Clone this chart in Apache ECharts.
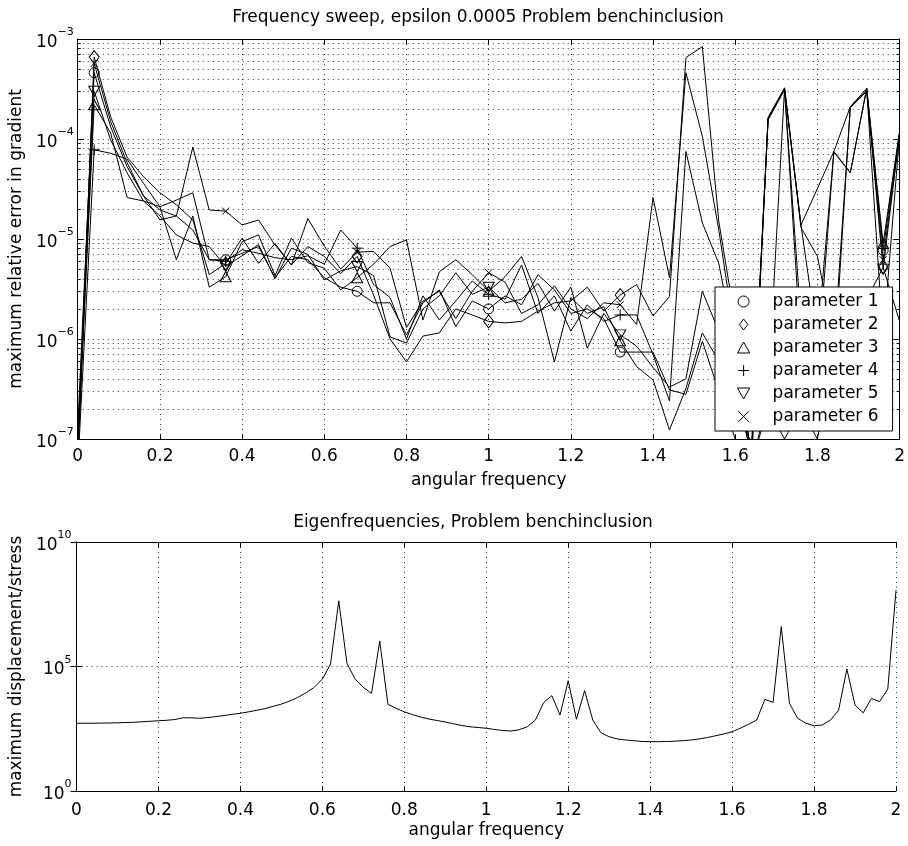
<!DOCTYPE html>
<html>
<head>
  <meta charset="utf-8" />
  <title>Frequency sweep / Eigenfrequencies</title>
  <script src="https://cdn.jsdelivr.net/npm/echarts@6/dist/echarts.min.js"></script>
  <style>html,body{margin:0;padding:0;background:#fff;}</style>
</head>
<body>
<div id="main" style="width:908px;height:846px;"></div>
<script type="text/javascript">
// sample points of the frequency sweep (top) and of the eigenfrequency scan (bottom)
var freqSweep = [0,0.04,0.08,0.12,0.16,0.2,0.24,0.28,0.32,0.36,0.4,0.44,0.48,0.52,0.56,0.6,0.64,0.68,0.72,0.76,
  0.8,0.84,0.88,0.92,0.96,1,1.04,1.08,1.12,1.16,1.2,1.24,1.28,1.32,1.36,1.4,1.44,1.48,1.52,1.56,
  1.6,1.64,1.68,1.72,1.76,1.8,1.84,1.88,1.92,1.96,2];
var freqEigen = [0,0.02,0.04,0.06,0.08,0.1,0.12,0.14,0.16,0.18,0.2,0.22,0.24,0.26,0.28,0.3,0.32,0.34,0.36,0.38,
  0.4,0.42,0.44,0.46,0.48,0.5,0.52,0.54,0.56,0.58,0.6,0.62,0.64,0.66,0.68,0.7,0.72,0.74,0.76,0.78,
  0.8,0.82,0.84,0.86,0.88,0.9,0.92,0.94,0.96,0.98,1,1.02,1.04,1.06,1.08,1.1,1.12,1.14,1.16,1.18,
  1.2,1.22,1.24,1.26,1.28,1.3,1.32,1.34,1.36,1.38,1.4,1.42,1.44,1.46,1.48,1.5,1.52,1.54,1.56,1.58,
  1.6,1.62,1.64,1.66,1.68,1.7,1.72,1.74,1.76,1.78,1.8,1.82,1.84,1.86,1.88,1.9,1.92,1.94,1.96,1.98,2];
// markers are only drawn on every 8th sample
var markerIdx = [1,9,17,25,33,41,49];

var param1 = [1.3e-7,4.6e-4,1.33e-4,5.3e-5,2.7e-5,1.95e-5,1.7e-5,1.23e-5,6.2e-6,6.2e-6,
  7.2e-6,8.4e-6,4.1e-6,6.7e-6,6.2e-6,4.1e-6,3.3e-6,3.0e-6,2.3e-6,2.3e-6,
  1.1e-6,2.3e-6,3.1e-6,1.33e-6,2.4e-6,2.0e-6,2.7e-6,2.2e-6,4.4e-6,3.1e-6,
  1.8e-6,2.0e-6,1.6e-6,7.4e-7,7.4e-7,7.4e-7,3.1e-7,2.8e-7,9.5e-7,3e-7,
  1e-7,8e-8,1.6e-4,3.2e-4,1.38e-5,3.2e-5,7.5e-5,2.1e-4,3.2e-4,7.7e-6,1.15e-4];
var param2 = [6e-8,6.6e-4,1.67e-4,6.6e-5,4.2e-5,2.9e-5,2.2e-5,1.55e-5,4.4e-6,5.7e-6,
  1.02e-5,5.7e-6,9e-6,5.5e-6,8.4e-6,6.7e-6,4.5e-6,6.7e-6,2.75e-6,1.0e-6,
  5.9e-7,1.07e-6,1.15e-6,2.0e-6,1.74e-6,1.5e-6,1.45e-6,1.5e-6,1.9e-6,2.3e-6,
  2.4e-6,3.3e-6,1.9e-6,2.75e-6,3.5e-6,1.7e-6,2.65e-6,6.5e-4,8.4e-4,1.5e-5,
  1.5e-6,6e-8,1.6e-4,3.2e-4,1.3e-5,6.7e-6,1e-6,1.2e-6,2.5e-6,5.2e-6,1.5e-6];
var param3 = [8e-8,2.2e-4,1.15e-4,2.6e-5,2.4e-5,2.1e-5,6.2e-6,1.7e-5,3.3e-6,4.2e-6,
  9.4e-6,1.1e-5,4.3e-6,1.02e-5,5.8e-6,5.1e-6,3.1e-6,4.1e-6,5.6e-6,8.4e-6,
  9.8e-6,1.55e-6,4.7e-6,6.2e-6,4.4e-6,3.0e-6,4.2e-6,6.7e-6,2.6e-6,5.9e-7,
  2.6e-6,1.8e-6,2.1e-6,9.6e-7,5.3e-7,3.9e-7,1.23e-7,3.2e-7,1.15e-6,6e-7,
  2e-7,9e-8,1.55e-4,3.1e-4,1.5e-6,5e-7,7.5e-5,4.6e-5,3.2e-4,9e-6,1.2e-4];
var param4 = [5e-8,7.8e-5,7.2e-5,6.3e-5,3.6e-5,2.1e-5,2.45e-5,2.9e-5,6.2e-6,6.0e-6,
  7.8e-6,7.2e-6,6.5e-6,6.2e-6,6.8e-6,5.6e-6,1.23e-5,8.1e-6,3.5e-6,2.6e-6,
  1.0e-6,2.7e-6,1.55e-6,2.4e-6,3.8e-6,2.8e-6,2.5e-6,5.5e-6,1.8e-6,2.7e-6,
  1.2e-6,2.2e-6,1.5e-6,1.74e-6,1.74e-6,7e-7,2.4e-7,7.5e-5,1.45e-5,5.7e-6,
  8e-7,5e-8,3e-7,3.2e-4,8e-7,2e-7,5e-7,2.1e-4,3.1e-4,1e-6,1.1e-4];
var param5 = [7e-8,3.0e-4,9.8e-5,4.6e-5,2.4e-5,1.7e-5,1.1e-5,9.1e-6,8.4e-6,5.3e-6,
  6.8e-6,8.8e-6,4e-6,8.1e-6,7e-6,3.9e-6,4.8e-6,5.3e-6,4.3e-6,1.05e-6,
  9.1e-7,2.0e-6,2.7e-6,4.6e-6,2.8e-6,3.3e-6,2.3e-6,2.5e-6,3.6e-6,1.9e-6,
  3.3e-6,8.1e-7,1.8e-6,1.1e-6,8.5e-7,5.2e-7,3.3e-7,4.0e-7,3.0e-6,1.2e-6,
  3e-7,7e-8,1.65e-4,3.25e-4,1.38e-5,1e-6,7.4e-5,4.6e-5,3.2e-4,5e-6,1.15e-4];
var param6 = [9e-8,5.7e-4,1.5e-4,5.8e-5,2.7e-5,1.55e-5,1.7e-5,8.3e-5,1.95e-5,1.9e-5,
  1.38e-5,1.55e-5,8.7e-6,5.5e-6,1.6e-5,8.5e-6,5e-6,7.4e-6,7.5e-6,5.1e-6,
  1.3e-6,2.4e-6,3.0e-6,1.6e-6,3.0e-6,4.6e-6,3.7e-6,1.8e-6,2.2e-6,3.4e-6,
  2.0e-6,1.6e-6,2.3e-6,2.2e-6,1.4e-6,2.6e-5,4.1e-6,4.6e-4,1.06e-4,1.23e-5,
  1e-6,6e-8,2e-7,1e-7,2e-7,1e-7,8e-7,2.05e-4,3.0e-4,6.2e-6,1.1e-4];

var eigenResp = [525,525,525,537,537,550,562,575,603,631,
  661,692,741,871,871,832,891,977,1070,1200,
  1320,1510,1740,2040,2510,3090,4070,5750,8710,14500,
  30900,126000,4.37e7,135000,30900,14500,8320,1.05e6,3020,2090,
  1510,1170,933,776,676,589,501,427,380,355,
  331,295,269,257,288,380,708,3550,6760,1120,
  26900,759,10700,708,219,151,123,112,105,97.7,
  95.5,95.5,97.7,100,105,112,123,141,166,195,
  240,331,479,708,4790,3630,3.98e6,3310,832,525,
  417,447,708,1780,79400,2820,1380,5250,3890,12600,
  1.17e8];

var decadesTop = [1e-7,1e-6,1e-5,1e-4,1e-3];
var minorTop = [2e-7,3e-7,4e-7,5e-7,6e-7,7e-7,8e-7,9e-7,
  2e-6,3e-6,4e-6,5e-6,6e-6,7e-6,8e-6,9e-6,
  2e-5,3e-5,4e-5,5e-5,6e-5,7e-5,8e-5,9e-5,
  2e-4,3e-4,4e-4,5e-4,6e-4,7e-4,8e-4,9e-4];
var decadesBottom = [1,1e5,1e10];

var FONT = 'DejaVu Sans';
var dotted = {color: '#333', width: 1, type: [1, 4]};

function powLabel(v) {
  var e = Math.round(Math.log10(v));
  return '{b|10}{s|' + (e < 0 ? '\u2212' + (-e) : e) + '}';
}
var powRich = {
  b: {fontSize: 17, fontFamily: FONT, color: '#000', lineHeight: 24, verticalAlign: 'bottom'},
  s: {fontSize: 11, fontFamily: FONT, color: '#000', lineHeight: 24, verticalAlign: 'top'}
};

function markerOf(shape) {
  return function (val, params) {
    return markerIdx.indexOf(params.dataIndex) >= 0 ? shape : 'none';
  };
}
function pairs(xs, ys) {
  var out = [];
  for (var i = 0; i < ys.length; i++) out.push([xs[i], ys[i]]);
  return out;
}

// path symbols keep their aspect in the legend
var shapes = {
  circle: 'circle',
  diamond: 'path://M5,0L10,6.5L5,13L0,6.5Z',
  triangle: 'path://M5,0L10,9L0,9Z',
  plus: 'path://M5,0L5,10M0,5L10,5',
  down: 'path://M0,0L10,0L5,9Z',
  cross: 'path://M0,0L10,10M10,0L0,10'
};

var params = [
  {name: 'parameter 1', data: param1, shape: shapes.circle, size: 10},
  {name: 'parameter 2', data: param2, shape: shapes.diamond, size: [10, 13]},
  {name: 'parameter 3', data: param3, shape: shapes.triangle, size: [11, 10]},
  {name: 'parameter 4', data: param4, shape: shapes.plus, size: 11},
  {name: 'parameter 5', data: param5, shape: shapes.down, size: [11, 10]},
  {name: 'parameter 6', data: param6, shape: shapes.cross, size: 7}
];

var hollow = {color: 'rgba(0,0,0,0)', borderColor: '#000', borderWidth: 1};

var seriesList = params.map(function (p) {
  return {
    name: p.name,
    type: 'line',
    xAxisIndex: 0,
    yAxisIndex: 0,
    data: pairs(freqSweep, p.data),
    symbol: markerOf(p.shape),
    symbolSize: p.size,
    showAllSymbol: true,
    itemStyle: hollow,
    lineStyle: {color: '#000', width: 1},
    silent: true,
    z: 3
  };
});
seriesList.push({
  name: 'eigen',
  type: 'line',
  xAxisIndex: 2,
  yAxisIndex: 4,
  data: pairs(freqEigen, eigenResp),
  symbol: 'none',
  lineStyle: {color: '#000', width: 1},
  silent: true
});

function xAxisPair(grid, labelMargin, nameGap) {
  var base = {
    gridIndex: grid, type: 'value', min: 0, max: 2, interval: 0.2,
    axisLine: {show: true, onZero: false, lineStyle: {color: '#000', width: 1}},
    axisTick: {show: true, inside: true, length: 5, lineStyle: {color: '#000'}}
  };
  return [
    Object.assign({}, base, {
      position: 'bottom',
      axisLabel: {color: '#000', fontSize: 17, fontFamily: FONT, margin: labelMargin},
      splitLine: {show: true, lineStyle: dotted},
      name: 'angular frequency', nameLocation: 'middle', nameGap: nameGap,
      nameTextStyle: {color: '#000', fontSize: 17, fontFamily: FONT}
    }),
    Object.assign({}, base, {
      position: 'top',
      axisLabel: {show: false},
      splitLine: {show: false}
    })
  ];
}

function logAxis(grid, pos, min, max, ticks, tickLen, opts) {
  var ax = {
    gridIndex: grid, type: 'log', position: pos, min: min, max: max,
    axisLine: {show: false},
    axisTick: {show: true, inside: true, length: tickLen, customValues: ticks, lineStyle: {color: '#000'}},
    axisLabel: {show: false},
    splitLine: {show: false}
  };
  return Object.assign(ax, opts || {});
}

var option = {
  backgroundColor: '#fff',
  animation: false,
  title: [
    {text: 'Frequency sweep, epsilon 0.0005 Problem benchinclusion', left: 478, top: 9,
      textAlign: 'center', padding: 0,
      textStyle: {fontSize: 17, fontWeight: 'normal', fontFamily: FONT, color: '#000'}},
    {text: 'Eigenfrequencies, Problem benchinclusion', left: 473, top: 514,
      textAlign: 'center', padding: 0,
      textStyle: {fontSize: 17, fontWeight: 'normal', fontFamily: FONT, color: '#000'}}
  ],
  legend: {
    orient: 'vertical', left: 715, top: 287,
    itemWidth: 48, itemHeight: 11, itemGap: 6,
    padding: [6, 14, 6, 22],
    backgroundColor: '#fff', borderColor: '#000', borderWidth: 1, borderRadius: 0,
    selectedMode: false,
    textStyle: {fontSize: 17, fontFamily: FONT, color: '#000'},
    itemStyle: hollow,
    data: params.map(function (p) { return {name: p.name, icon: p.shape}; }),
    z: 10
  },
  grid: [
    {left: 76, top: 39, right: 8, bottom: 407},
    {left: 70, top: 542, right: 12, bottom: 55}
  ],
  xAxis: xAxisPair(0, 9, 33).concat(xAxisPair(1, 11, 31)),
  yAxis: [
    logAxis(0, 'left', 1e-7, 1e-3, decadesTop, 6, {
      axisLine: {show: true, lineStyle: {color: '#000', width: 1}},
      axisLabel: {show: true, customValues: decadesTop, formatter: powLabel, rich: powRich, margin: 4},
      splitLine: {show: true, lineStyle: dotted},
      name: 'maximum relative error in gradient', nameLocation: 'middle', nameGap: 38,
      nameTextStyle: {color: '#000', fontSize: 17, fontFamily: FONT}
    }),
    logAxis(0, 'left', 1e-7, 1e-3, minorTop, 3, {splitLine: {show: true, lineStyle: dotted}}),
    logAxis(0, 'right', 1e-7, 1e-3, decadesTop, 6, {
      axisLine: {show: true, lineStyle: {color: '#000', width: 1}}
    }),
    logAxis(0, 'right', 1e-7, 1e-3, minorTop, 3),
    logAxis(1, 'left', 1, 1e10, decadesBottom, 6, {
      axisLine: {show: true, lineStyle: {color: '#000', width: 1}},
      axisLabel: {show: true, customValues: decadesBottom, formatter: powLabel, rich: powRich, margin: 5},
      splitLine: {show: true, lineStyle: dotted},
      name: 'maximum displacement/stress', nameLocation: 'middle', nameGap: 44,
      nameTextStyle: {color: '#000', fontSize: 17, fontFamily: FONT}
    }),
    logAxis(1, 'right', 1, 1e10, decadesBottom, 6, {
      axisLine: {show: true, lineStyle: {color: '#000', width: 1}}
    })
  ],
  series: seriesList
};

var chart = echarts.init(document.getElementById('main'));
chart.setOption(option);
</script>
</body>
</html>
